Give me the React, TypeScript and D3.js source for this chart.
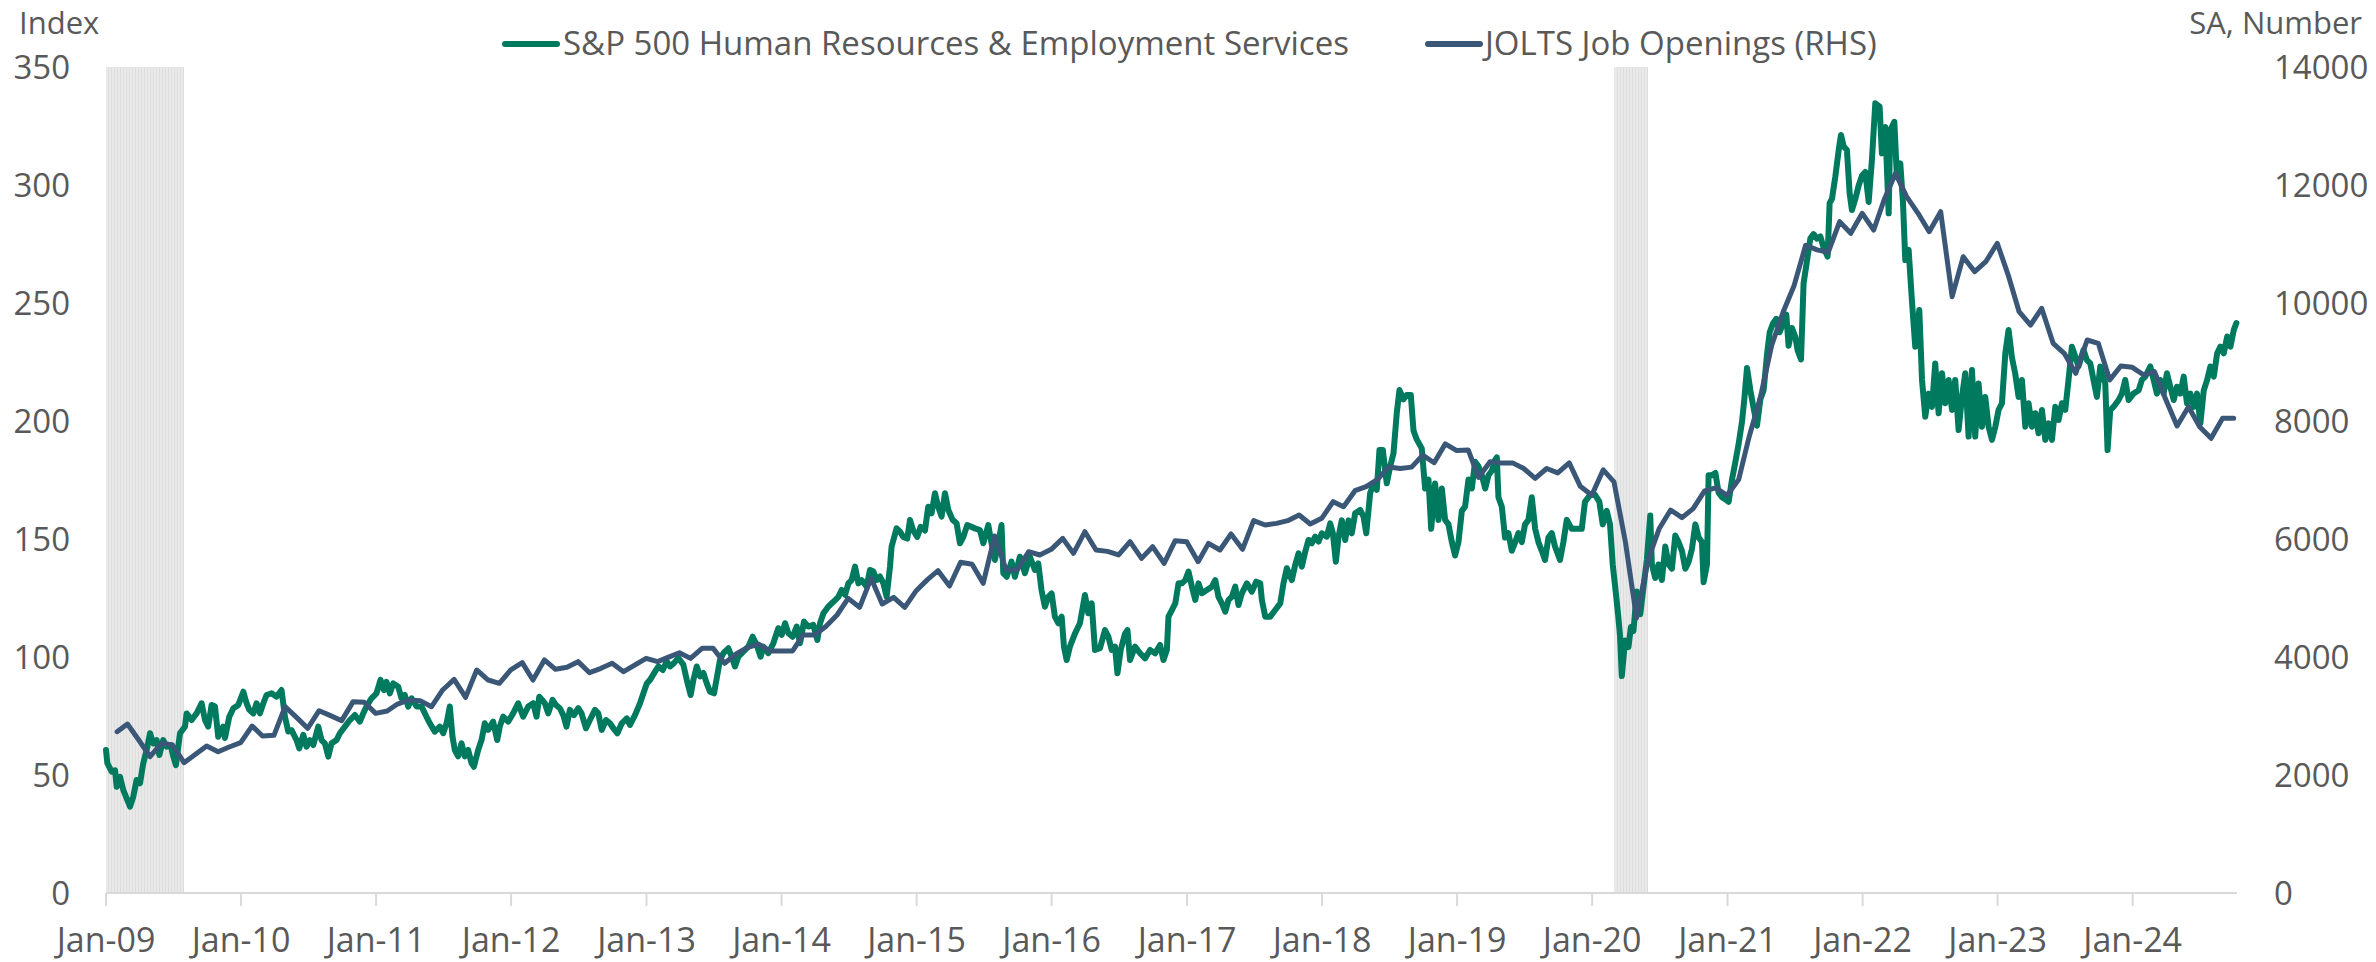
import React from "react";
import * as d3 from "d3";

// ---------- DATA ----------
// S&P 500 Human Resources & Employment Services (index, LHS). Time as fractional year.
const hrTime: number[] = [
  2009.000,2009.010,2009.042,2009.067,2009.079,2009.104,2009.128,2009.178,2009.202,2009.227,2009.252,2009.276,2009.301,2009.326,2009.350,2009.375,2009.395,2009.424,2009.449,2009.479,2009.498,2009.518,2009.548,2009.585,2009.597,2009.634,2009.671,2009.708,2009.733,2009.757,2009.782,2009.807,2009.831,2009.868,2009.881,2009.913,2009.943,2009.980,
  2010.017,2010.041,2010.061,2010.091,2010.115,2010.140,2010.165,2010.189,2010.226,2010.263,2010.300,2010.325,2010.350,2010.374,2010.411,2010.431,2010.461,2010.485,2010.510,2010.535,2010.572,2010.596,2010.621,2010.646,2010.670,2010.707,2010.732,2010.769,2010.806,2010.843,2010.880,2010.905,2010.929,2010.966,
  2011.003,2011.033,2011.058,2011.077,2011.102,2011.127,2011.164,2011.188,2011.213,2011.238,2011.263,2011.300,2011.337,2011.361,2011.398,2011.435,2011.472,2011.497,2011.522,2011.546,2011.566,2011.583,2011.608,2011.633,2011.657,2011.682,2011.707,2011.724,2011.756,2011.781,2011.805,2011.830,2011.867,2011.897,2011.916,2011.941,2011.978,
  2012.015,2012.052,2012.089,2012.126,2012.163,2012.188,2012.208,2012.249,2012.274,2012.306,2012.330,2012.360,2012.385,2012.409,2012.434,2012.464,2012.496,2012.520,2012.553,2012.582,2012.619,2012.644,2012.669,2012.701,2012.730,2012.755,2012.785,2012.817,2012.854,2012.878,2012.915,2012.952,2012.977,
  2013.002,2013.026,2013.063,2013.088,2013.120,2013.150,2013.174,2013.204,2013.236,2013.273,2013.298,2013.327,2013.347,2013.372,2013.396,2013.421,2013.446,2013.470,2013.500,2013.520,2013.544,2013.569,2013.606,2013.631,2013.655,2013.680,2013.717,2013.754,2013.786,2013.816,2013.845,2013.865,2013.902,2013.939,2013.976,
  2014.001,2014.026,2014.050,2014.082,2014.112,2014.137,2014.166,2014.198,2014.235,2014.265,2014.285,2014.310,2014.347,2014.384,2014.421,2014.445,2014.470,2014.495,2014.519,2014.544,2014.569,2014.593,2014.630,2014.655,2014.680,2014.704,2014.729,2014.754,2014.778,2014.803,2014.815,2014.852,2014.877,2014.901,2014.931,2014.951,2014.975,
  2015.005,2015.030,2015.062,2015.086,2015.111,2015.136,2015.160,2015.185,2015.210,2015.235,2015.267,2015.296,2015.321,2015.346,2015.375,2015.432,2015.469,2015.494,2015.531,2015.555,2015.580,2015.605,2015.629,2015.642,2015.667,2015.703,2015.728,2015.765,2015.802,2015.839,2015.876,2015.901,2015.925,2015.950,2015.975,
  2016.000,2016.024,2016.049,2016.074,2016.091,2016.111,2016.135,2016.172,2016.209,2016.246,2016.271,2016.296,2016.320,2016.357,2016.394,2016.419,2016.444,2016.468,2016.486,2016.510,2016.542,2016.560,2016.579,2016.616,2016.653,2016.690,2016.727,2016.764,2016.801,2016.826,2016.851,2016.863,2016.888,2016.913,2016.937,2016.962,2016.987,
  2017.011,2017.036,2017.061,2017.085,2017.110,2017.147,2017.184,2017.209,2017.233,2017.258,2017.283,2017.307,2017.332,2017.357,2017.381,2017.406,2017.443,2017.480,2017.512,2017.542,2017.554,2017.579,2017.616,2017.653,2017.690,2017.714,2017.739,2017.776,2017.801,2017.826,2017.850,2017.875,2017.900,2017.924,2017.949,2017.974,2017.998,
  2018.035,2018.060,2018.080,2018.102,2018.122,2018.146,2018.171,2018.196,2018.220,2018.245,2018.282,2018.307,2018.327,2018.356,2018.381,2018.405,2018.425,2018.450,2018.479,2018.504,2018.529,2018.553,2018.573,2018.603,2018.627,2018.657,2018.677,2018.701,2018.738,2018.763,2018.788,2018.808,2018.837,2018.862,2018.887,2018.911,2018.936,2018.961,2018.985,
  2019.010,2019.035,2019.059,2019.084,2019.109,2019.133,2019.158,2019.183,2019.208,2019.232,2019.257,2019.282,2019.294,2019.306,2019.331,2019.355,2019.380,2019.405,2019.430,2019.454,2019.479,2019.503,2019.528,2019.553,2019.578,2019.602,2019.627,2019.651,2019.676,2019.701,2019.725,2019.762,2019.787,2019.812,2019.849,2019.886,2019.923,2019.947,2019.985,
  2020.021,2020.053,2020.078,2020.108,2020.132,2020.152,2020.177,2020.194,2020.206,2020.219,2020.243,2020.268,2020.286,2020.305,2020.330,2020.355,2020.379,2020.404,2020.429,2020.441,2020.466,2020.490,2020.515,2020.540,2020.565,2020.589,2020.614,2020.638,2020.663,2020.688,2020.712,2020.737,2020.762,2020.787,2020.811,2020.823,2020.848,2020.860,2020.885,2020.910,2020.934,2020.959,2020.984,
  2021.008,2021.033,2021.058,2021.082,2021.107,2021.124,2021.144,2021.169,2021.193,2021.218,2021.243,2021.267,2021.292,2021.312,2021.336,2021.361,2021.386,2021.410,2021.435,2021.452,2021.477,2021.502,2021.519,2021.544,2021.563,2021.583,2021.613,2021.637,2021.662,2021.687,2021.711,2021.741,2021.756,2021.773,2021.798,2021.823,2021.840,2021.860,2021.884,2021.904,2021.921,2021.946,2021.971,2021.996,
  2022.020,2022.045,2022.069,2022.094,2022.126,2022.143,2022.168,2022.193,2022.205,2022.235,2022.254,2022.279,2022.299,2022.316,2022.341,2022.365,2022.390,2022.420,2022.440,2022.464,2022.489,2022.514,2022.538,2022.563,2022.588,2022.612,2022.637,2022.662,2022.686,2022.711,2022.736,2022.760,2022.785,2022.810,2022.834,2022.859,2022.884,2022.908,2022.933,2022.958,2022.983,
  2023.007,2023.032,2023.057,2023.081,2023.106,2023.131,2023.155,2023.180,2023.205,2023.229,2023.254,2023.279,2023.303,2023.328,2023.353,2023.378,2023.402,2023.427,2023.451,2023.476,2023.501,2023.525,2023.550,2023.575,2023.599,2023.636,2023.661,2023.686,2023.710,2023.735,2023.760,2023.797,2023.814,2023.834,2023.859,2023.896,2023.920,2023.945,2023.970,
  2024.006,2024.044,2024.068,2024.093,2024.130,2024.155,2024.179,2024.204,2024.229,2024.253,2024.278,2024.303,2024.327,2024.352,2024.377,2024.401,2024.426,2024.451,2024.475,2024.500,2024.525,2024.550,2024.574,2024.599,2024.624,2024.648,2024.673,2024.698,2024.722,2024.747,2024.766,
];

const hrIndex: number[] = [
  60.6,55,51.4,52,45,49.2,43.6,36.6,40.8,47.9,46.5,55,60.6,67.7,63.4,64.8,58.5,64.8,62,62.7,57.9,54.2,67.7,70.5,76.1,73.3,76.1,80.4,73.3,70.5,79.7,79,66.2,70.5,65.7,74.7,78.3,79.7,
  85.3,80.4,77.6,76.1,80.4,76.1,80.4,83.9,84.6,83.2,86,74.7,68.4,69,64.8,61.3,67,62,64.8,62.7,70.5,64.8,63.4,57.8,63.4,64.8,67.7,70.5,73.3,75.4,72.6,76.1,79,82.5,
  84.6,90.3,86,89.5,84.6,88.8,87.4,82.5,83.9,79,82.5,79,79,76.1,71.9,68.4,70.5,67.7,71.9,79,66.2,60.6,57.9,63.4,57.9,60.6,55,53.5,60.6,64.8,71.9,69.1,72.6,64.8,70.5,74.7,72.6,
  76.1,80.4,74.7,79,80.4,74.7,83.2,80.4,76.1,81.8,79.7,78.3,75.4,70.5,77.6,75.4,78.3,76.1,69.8,73.3,77.6,76.1,69.1,73.3,71.9,69.8,67.7,71.9,74,71.2,75.4,80.4,84.6,
  88.8,90.3,93.8,96,94.5,98.2,96,97.5,99.6,96.7,90.3,83.9,90.3,96,91.8,93.2,88.8,85.3,84.6,91,98.7,101.6,103.7,100.1,96,100.1,102.3,104.4,108.6,105.1,100.1,104.4,101.6,105.8,112.2,
  109.4,114.3,110.1,108.6,112.9,105.8,115,112.9,113.6,107.2,114.3,118.5,121.4,123.4,125.5,128.4,126.3,131.2,132.6,138.3,131.2,132.6,129.8,136.9,136.2,132.6,134.1,131.2,125.5,138.3,146.8,154.5,153.1,150.9,150.2,158.1,153.6,
  150.9,155.2,153.6,163.7,160.9,169.4,163.7,159.5,169.4,162.3,158.1,156.7,148.2,150.9,155.9,154.5,153.8,148.2,155.9,148.2,141.1,148.2,155.9,135.5,134,140.4,134,142.5,135.5,142.5,136.9,139.7,128.4,121.3,125.5,
  126.9,117.1,114.3,117.1,104.4,98.7,104.4,109.9,114.3,126.3,118.5,122.7,103,103.7,111.4,108.6,103,104.4,93.1,103,109.9,111.4,98.7,104.4,101.6,99.4,103,101.6,105.1,98.7,103,117.1,119.9,122.7,131.2,131.2,132.6,
  136.2,129.8,124.2,131.2,127,128.4,129.8,132.6,125.5,122.7,119.2,124.2,125.5,129.8,122,127,131.2,127.7,131.9,131.2,124.2,117.1,117.1,119.9,122.7,131.2,137.6,132.6,139,143.9,138.3,144.6,149.6,148.2,151,148.9,152.4,
  151,156.6,152.4,140.4,151,157.9,149.6,157.9,152.4,160.9,162.3,159.5,152.4,169.4,173.6,170.8,187.7,187.7,173.6,180.7,186.3,203.3,213.1,209.2,211,211,196,192.2,188.4,171.4,175.2,154.3,173.5,158.1,171.4,158.1,156.2,148.7,143,
  148.7,161.9,163.7,175.2,171.4,182.7,180.8,177,171.4,177,178.9,183.6,184.6,167.7,163.7,150.6,152.5,145,148.7,152.5,148.7,156.2,158.1,167.7,154.3,148.7,145,141.1,150.6,152.5,146.8,141.1,148.7,158.1,154.3,154.3,154.3,165.8,168.7,
  168.7,165.8,156.2,161.9,156.2,139.2,126,116.5,108.9,91.9,107,104.2,112.7,111,127.8,118.1,129.6,141.1,160,139.2,133.5,139.2,132.6,146.8,139.2,137.4,151.5,148.7,145,137.4,140.2,145.8,156.2,150.6,148.7,131.7,139.2,177,177,178,169.6,167.7,166.8,
  165.8,175.2,182.7,190.3,199.7,209.2,222.5,213,205.4,198,209.2,213,228.1,237.6,241.3,243.3,237.6,241.3,245.1,231.9,239.4,235.6,229.9,226.1,258.4,265.9,277.3,279.2,277.3,278.2,273.5,269.7,292.4,294.1,303.5,314.8,321.2,316.3,314.8,296.5,289.4,294.1,299.8,304,
  305.5,292.8,310.6,334.6,333.2,313.4,324.6,288,323.2,326.8,303.5,309.2,292.8,268.2,272.5,251.3,231.5,247,217.4,201.8,211.6,206,224.4,203.3,220.2,207.5,217.4,204.7,217.4,196.2,210.2,220.2,193.4,221.6,193.4,215.9,197.6,210.2,197.6,192,197.6,
  204.7,207.5,228.7,238.6,226.9,219.8,210.2,217.4,197.6,207.5,197.6,203.3,194.8,204.7,192,199,192,206,200.4,207.5,204.7,217.4,231.5,227.3,223.1,230.1,225.8,224.4,217.4,210.2,223.1,216,187.7,204.7,206,208.9,211.6,217.4,208.9,
  211.6,213,217.4,218.8,223.1,217.4,211.6,217.4,211.6,220.2,214.5,208.9,214.5,211.6,218.8,207.5,211.6,206,211.6,199,213,217.4,223.1,218.8,228.7,231.5,228.7,235.8,231.5,238.6,241.5,
];

// JOLTS Job Openings (thousands, SA, RHS), monthly from Jan 2009 to Sep 2024
const joltsStartYear = 2009;
const joltsOpenings: number[] = [
  2734,2864,2588,2311,2537,2508,2209,2350,2491,2395,2475,2548,
  2830,2661,2672,3158,2977,2791,3090,3006,2921,3243,3232,3045,
  3085,3203,3271,3260,3158,3441,3621,3316,3780,3610,3554,3780,
  3904,3610,3950,3791,3825,3921,3734,3808,3893,3751,3864,3977,
  3921,3994,4073,3977,4147,4147,3893,4051,4158,4220,4102,4102,
  4102,4373,4373,4514,4712,4994,4842,5333,4898,5011,4842,5124,
  5316,5463,5203,5605,5573,5249,6051,5475,5475,5785,5729,5825,
  6011,5757,6124,5814,5790,5729,5955,5672,5870,5587,5972,5955,
  5616,5926,5814,6085,5825,6311,6237,6265,6311,6407,6254,6350,
  6633,6548,6819,6887,7011,7222,7196,7218,7422,7293,7612,7498,
  7510,7044,7308,7290,7290,7195,7029,7195,7120,7290,6893,6741,
  7173,6968,5947,4661,5644,6173,6491,6363,6514,6817,6868,6741,
  7007,7725,8407,9276,9844,10298,10978,10900,10860,11378,11181,11520,
  11237,11746,12198,11802,11520,11209,11548,10107,10785,10531,10700,11012,
  10446,9853,9627,9910,9317,9147,8808,9373,9317,8695,8932,8910,
  8780,8836,8356,7915,8243,7904,7706,8045,8045,
];

// Recession shading periods
const recessionStart: string[] = ["2009-01-01", "2020-03-01"];
const recessionEnd: string[] = ["2009-07-31", "2020-05-31"];

const xTickYears: number[] = d3.range(2009, 2025);
const leftTicks: number[] = [0, 50, 100, 150, 200, 250, 300, 350];
const rightTicks: number[] = [0, 2000, 4000, 6000, 8000, 10000, 12000, 14000];

const seriesNames: string[] = ["S&P 500 Human Resources & Employment Services", "JOLTS Job Openings (RHS)"];
const seriesColors: string[] = ["#007a5e", "#3a5777"];

// ---------- HELPERS ----------
function fromDecimalYear(t: number): Date {
  const y = Math.floor(t);
  const a = new Date(y, 0, 1).getTime();
  const b = new Date(y + 1, 0, 1).getTime();
  return new Date(a + (t - y) * (b - a));
}
function parseDay(s: string): Date {
  const [y, m, d] = s.split("-").map(Number);
  return new Date(y, m - 1, d);
}

const W = 2376;
const H = 962;
const FONT = "'Segoe UI', 'Open Sans', 'Noto Sans', sans-serif";
const TXT = "#595959";
const AXIS_FS = 33;
const TITLE_FS = 31;
const LEG_FS = 33;

export default function App() {
  const left = 106, right = 2237, top = 67, bottom = 893;

  const x = d3.scaleTime().domain([new Date(2009, 0, 1), new Date(2024, 9, 9)]).range([left, right]);
  const yL = d3.scaleLinear().domain([0, 350]).range([bottom, top]);
  const yR = d3.scaleLinear().domain([0, 14000]).range([bottom, top]);

  const hrData = hrTime.map((t, i) => ({ d: fromDecimalYear(t), v: hrIndex[i] }));
  const joltsData = joltsOpenings.map((v, k) => ({ d: new Date(joltsStartYear, k + 1, 0), v }));

  const hrLine = d3.line<{ d: Date; v: number }>().x((p) => x(p.d)).y((p) => yL(p.v));
  const joltsLine = d3.line<{ d: Date; v: number }>().x((p) => x(p.d)).y((p) => yR(p.v));

  const fmt = d3.timeFormat("%b-%y");

  return (
    <svg width={W} height={H} style={{ position: "absolute", left: 0, top: 0, background: "#fff" }} fontFamily={FONT}>
      <defs>
        <pattern id="recStripes" patternUnits="userSpaceOnUse" width={3} height={10}>
          <rect x={0} y={0} width={3} height={10} fill="#e9e9e9" />
          <rect x={0} y={0} width={1} height={10} fill="#dedede" />
        </pattern>
      </defs>
      <rect x={0} y={0} width={W} height={H} fill="#fff" />
      {recessionStart.map((s, i) => {
        const x0 = x(parseDay(recessionStart[i]));
        const x1 = x(parseDay(recessionEnd[i]));
        return <rect key={i} x={x0} y={top} width={x1 - x0} height={bottom - top} fill="url(#recStripes)" />;
      })}

      {/* x axis */}
      <line x1={left} x2={right} y1={bottom} y2={bottom} stroke="#d9d9d9" strokeWidth={2} />
      {xTickYears.map((yr) => {
        const xx = x(new Date(yr, 0, 1));
        return (
          <g key={yr}>
            <line x1={xx} x2={xx} y1={bottom} y2={bottom + 13} stroke="#d9d9d9" strokeWidth={2} />
            <text x={xx} y={952} textAnchor="middle" fontSize={34} fill={TXT}>
              {fmt(new Date(yr, 0, 1))}
            </text>
          </g>
        );
      })}

      {/* left axis */}
      {leftTicks.map((v) => (
        <text key={v} x={70} y={yL(v)} dy="0.36em" textAnchor="end" fontSize={AXIS_FS} fill={TXT}>
          {v}
        </text>
      ))}
      <text x={19} y={34} fontSize={TITLE_FS} fill={TXT}>Index</text>

      {/* right axis */}
      {rightTicks.map((v) => (
        <text key={v} x={2274} y={yR(v)} dy="0.36em" textAnchor="start" fontSize={AXIS_FS} fill={TXT}>
          {v}
        </text>
      ))}
      <text x={2362} y={34} textAnchor="end" fontSize={TITLE_FS} fill={TXT}>SA, Number</text>

      {/* series */}
      <path d={hrLine(hrData) || ""} fill="none" stroke={seriesColors[0]} strokeWidth={6} strokeLinejoin="round" strokeLinecap="round" />
      <path d={joltsLine(joltsData) || ""} fill="none" stroke={seriesColors[1]} strokeWidth={5} strokeLinejoin="round" strokeLinecap="round" />

      {/* legend */}
      <line x1={505} x2={557} y1={44} y2={44} stroke={seriesColors[0]} strokeWidth={6} strokeLinecap="round" />
      <text x={563} y={55} fontSize={LEG_FS} fill={TXT}>{seriesNames[0]}</text>
      <line x1={1428} x2={1480} y1={44} y2={44} stroke={seriesColors[1]} strokeWidth={6} strokeLinecap="round" />
      <text x={1485} y={55} fontSize={LEG_FS} fill={TXT}>{seriesNames[1]}</text>
    </svg>
  );
}
